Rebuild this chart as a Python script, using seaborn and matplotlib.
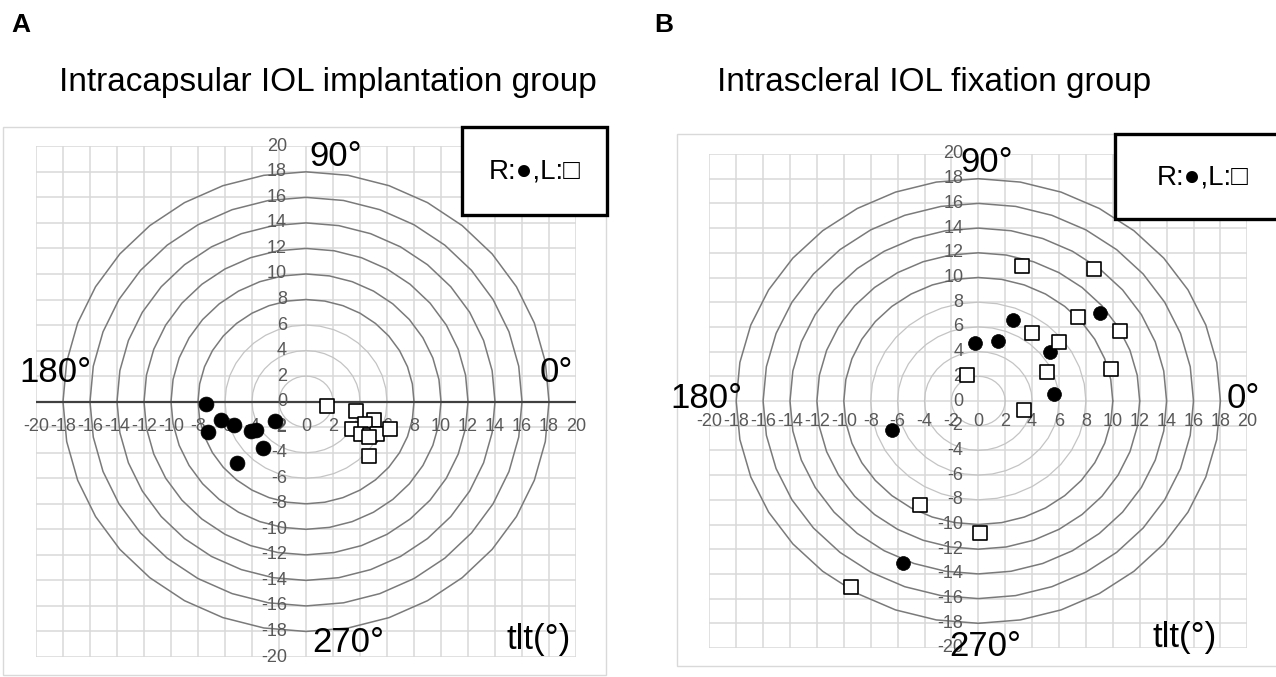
import numpy as np
import matplotlib
matplotlib.use("Agg")
import matplotlib.pyplot as plt
import matplotlib.transforms as mtrans
from matplotlib.patches import Rectangle
import seaborn as sns
import pandas as pd

# ---------------- data ----------------
ticks = list(range(-20, 21, 2))
light_radii_A = [2, 4, 6]
dark_radii_A = [8, 10, 12, 14, 16, 18]
light_radii_B = [2, 4, 6, 8]
dark_radii_B = [10, 12, 14, 16, 18]

A_R_x = [-7.44, -7.27, -6.33, -5.30, -4.10, -3.74, -2.28, -3.15, -5.10]
A_R_y = [-0.18, -2.35, -1.41, -1.80, -2.27, -2.20, -1.49, -3.66, -4.84]
A_L_x = [1.59, 3.74, 5.00, 3.40, 4.36, 4.09, 4.75, 5.25, 4.68, 6.19, 4.68]
A_L_y = [-0.37, -0.73, -1.41, -2.14, -1.78, -2.50, -2.64, -2.51, -2.75, -2.14, -4.26]

B_R_x = [-0.25, 1.43, 2.59, 5.36, 5.60, 9.06, -6.42, -5.60]
B_R_y = [4.73, 4.86, 6.57, 3.95, 0.54, 7.16, -2.32, -13.10]
B_L_x = [-0.86, 3.26, 8.60, 4.02, 6.00, 7.43, 10.50, 5.11, 9.88, 3.40, -4.37, 0.12, -9.46]
B_L_y = [2.08, 10.90, 10.70, 5.54, 4.81, 6.84, 5.68, 2.32, 2.59, -0.76, -8.40, -10.70, -15.10]

titles = ["Intracapsular IOL implantation group", "Intrascleral IOL fixation group"]
panel_letters = ["A", "B"]
legend_text = "R:\u25cf,L:\u25a1"

# ---------------- style ----------------
sns.set_style("white")
plt.rcParams["font.family"] = ["Liberation Sans", "DejaVu Sans"]
plt.rcParams["text.color"] = "black"

W, H = 1276, 677
fig = plt.figure(figsize=(W / 100, H / 100), dpi=100)


def fx(x):
    return x / W


def fy(y):
    return 1 - y / H


def add_rect(x0, y0, x1, y1, **kw):
    r = Rectangle((fx(x0), fy(y1)), fx(x1) - fx(x0), fy(y0) - fy(y1),
                  transform=fig.transFigure, **kw)
    fig.add_artist(r)
    return r


def panel(box, frame, legbox, R_x, R_y, L_x, L_y, light_r, dark_r,
          xlab_off, ylab_off, axis_line, s_circ, s_sq, deg_pos, title_pos,
          letter_pos, title, letter):
    x0, y0, x1, y1 = box
    add_rect(*frame, facecolor="white", edgecolor="#d9d9d9", lw=1.0, zorder=-5)
    ax = fig.add_axes([fx(x0), fy(y1), fx(x1) - fx(x0), fy(y0) - fy(y1)])
    ax.set_facecolor("none")
    ax.set_xlim(-20, 20)
    ax.set_ylim(-20, 20)
    for sp in ax.spines.values():
        sp.set_visible(False)
    ax.set_xticks([])
    ax.set_yticks([])
    # grid
    for t in ticks:
        ax.axvline(t, color="#d9d9d9", lw=1.1, zorder=1)
        ax.axhline(t, color="#d9d9d9", lw=1.1, zorder=1)
    # circles (Excel-like polygons)
    th = np.deg2rad(np.arange(0, 361, 10))
    for r in light_r:
        ax.plot(r * np.cos(th), r * np.sin(th), color="#c4c4c4", lw=0.9, zorder=2)
    for r in dark_r:
        ax.plot(r * np.cos(th), r * np.sin(th), color="#7a7a7a", lw=1.1, zorder=2)
    if axis_line:
        ax.axhline(0, color="#404040", lw=1.6, zorder=3)
    # tick labels
    tx = mtrans.offset_copy(ax.transData, fig=fig, x=0, y=-xlab_off, units="dots")
    ty = mtrans.offset_copy(ax.transData, fig=fig, x=-ylab_off, y=0, units="dots")
    for t in ticks:
        ax.text(t, 0, str(t), transform=tx, ha="center", va="center",
                fontsize=13, color="#595959", zorder=4)
        ax.text(0, t, str(t), transform=ty, ha="right", va="center",
                fontsize=13, color="#595959", zorder=4)
    # points
    dR = pd.DataFrame({"x": R_x, "y": R_y})
    dL = pd.DataFrame({"x": L_x, "y": L_y})
    sns.scatterplot(data=dR, x="x", y="y", ax=ax, marker="o", s=s_circ,
                    color="black", edgecolor="black", linewidth=0.5, zorder=6)
    sns.scatterplot(data=dL, x="x", y="y", ax=ax, marker="s", s=s_sq,
                    facecolor="white", edgecolor="black", linewidth=1.2, zorder=7)
    ax.set_xlabel("")
    ax.set_ylabel("")
    ax.set_xlim(-20, 20)
    ax.set_ylim(-20, 20)
    # degree labels
    for txt, (px, py) in zip(["90°", "180°", "0°", "270°", "tlt(°)"], deg_pos):
        fig.text(fx(px), fy(py), txt, ha="center", va="center", fontsize=25,
                 color="black", zorder=8)
    # legend box
    add_rect(*legbox, facecolor="white", edgecolor="black", lw=2.4, zorder=9)
    fig.text(fx((legbox[0] + legbox[2]) / 2), fy((legbox[1] + legbox[3]) / 2 + 1),
             legend_text, ha="center", va="center", fontsize=20, zorder=10)
    fig.text(fx(title_pos[0]), fy(title_pos[1]), title, ha="left", va="center",
             fontsize=24, color="black")
    fig.text(fx(letter_pos[0]), fy(letter_pos[1]), letter, ha="left", va="center",
             fontsize=19, fontweight="bold", color="black")
    return ax


panel(box=(36, 146.3, 576, 657), frame=(3, 127, 606, 675),
      legbox=(462, 127, 607, 215), R_x=A_R_x, R_y=A_R_y, L_x=A_L_x, L_y=A_L_y,
      light_r=light_radii_A, dark_r=dark_radii_A, xlab_off=25, ylab_off=19,
      axis_line=True, s_circ=115, s_sq=105,
      deg_pos=[(336, 157), (55, 372), (556, 372), (348, 643), (539, 640)],
      title_pos=(59, 82), letter_pos=(11, 25), title=titles[0], letter=panel_letters[0])

panel(box=(709.3, 154, 1247.3, 648), frame=(677, 134, 1290, 666),
      legbox=(1115, 134, 1290, 219), R_x=B_R_x, R_y=B_R_y, L_x=B_L_x, L_y=B_L_y,
      light_r=light_radii_B, dark_r=dark_radii_B, xlab_off=21, ylab_off=15,
      axis_line=False, s_circ=100, s_sq=90,
      deg_pos=[(987, 163), (706, 398), (1243, 398), (985, 646), (1185, 638)],
      title_pos=(717, 82), letter_pos=(654, 25), title=titles[1], letter=panel_letters[1])

fig.savefig("out.png", dpi=100, facecolor="white")
